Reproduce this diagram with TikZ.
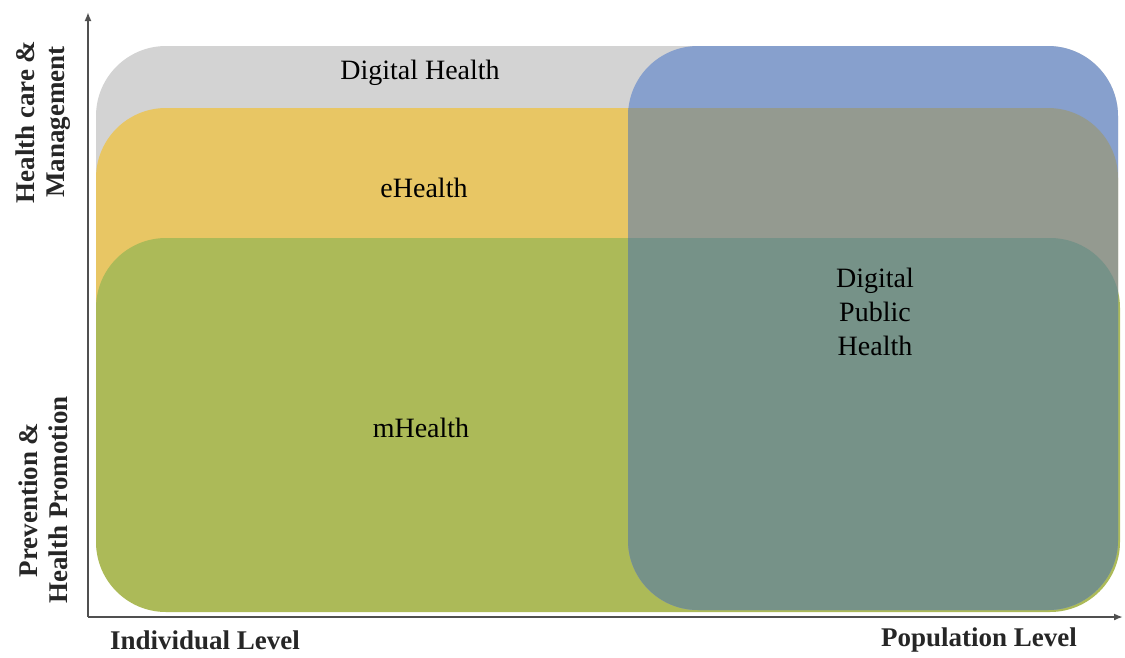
\documentclass[tikz,border=0pt]{standalone}
\usepackage{fontspec}
\usetikzlibrary{arrows.meta}
\setmainfont{Liberation Serif}
\definecolor{dhgray}{RGB}{211,211,211}
\definecolor{ehyellow}{RGB}{232,198,100}
\definecolor{mhgreen}{RGB}{172,186,88}
\definecolor{dphblue}{RGB}{135,160,205}
\definecolor{dphoveryellow}{RGB}{148,154,144}
\definecolor{dphovergreen}{RGB}{118,146,136}
\definecolor{axisgray}{RGB}{80,80,80}
\begin{document}
\begin{tikzpicture}[x=1pt,y=-1pt,
  band/.style={rounded corners=70pt},
  inlabel/.style={font=\fontsize{28}{34}\selectfont, text=black, align=center, inner sep=0pt},
  axlabel/.style={font=\bfseries\fontsize{27}{30}\selectfont, text=black!85, align=center, inner sep=0pt},
  axisline/.style={draw=axisgray, line width=1.8pt, -{Latex[length=9pt,width=7pt]}}]
\useasboundingbox (0,0) rectangle (1125,657);

% stacked fields
\fill[dhgray, band]   (96,46)  rectangle (1118,608);
\fill[ehyellow, band] (96,108) rectangle (1118,608);
\fill[mhgreen, band]  (96,238) rectangle (1120,612);

% digital public health field with its overlaps
\fill[dphblue, band]  (628,46) rectangle (1118,610);
\begin{scope}
  \clip[band] (628,46) rectangle (1118,610);
  \fill[dphoveryellow, band] (96,108) rectangle (1118,608);
  \fill[dphovergreen, band]  (96,238) rectangle (1120,612);
\end{scope}

% labels inside the fields
\node[inlabel] (dh)  at (420,73)  {Digital Health};
\node[inlabel] (eh)  at (424,188) {eHealth};
\node[inlabel] (mh)  at (421,428) {mHealth};
\node[inlabel] (dph) at (875,312) {Digital\\Public\\Health};

% axes
\coordinate (origin) at (88,617);
\coordinate (ytip)   at (88,12);
\coordinate (xtip)   at (1123,617);
\draw[axisline] (origin) -- (ytip);
\draw[axisline] (origin) -- (xtip);

% axis labels
\node[axlabel] (indiv) at (205,640) {Individual Level};
\node[axlabel] (popul) at (979,640) {Population Level};
\node[axlabel, rotate=90] (care) at (43,122) {Health care \&\\Management};
\node[axlabel, rotate=90] (prev) at (43,500) {Prevention \&\\Health Promotion};
\end{tikzpicture}
\end{document}
